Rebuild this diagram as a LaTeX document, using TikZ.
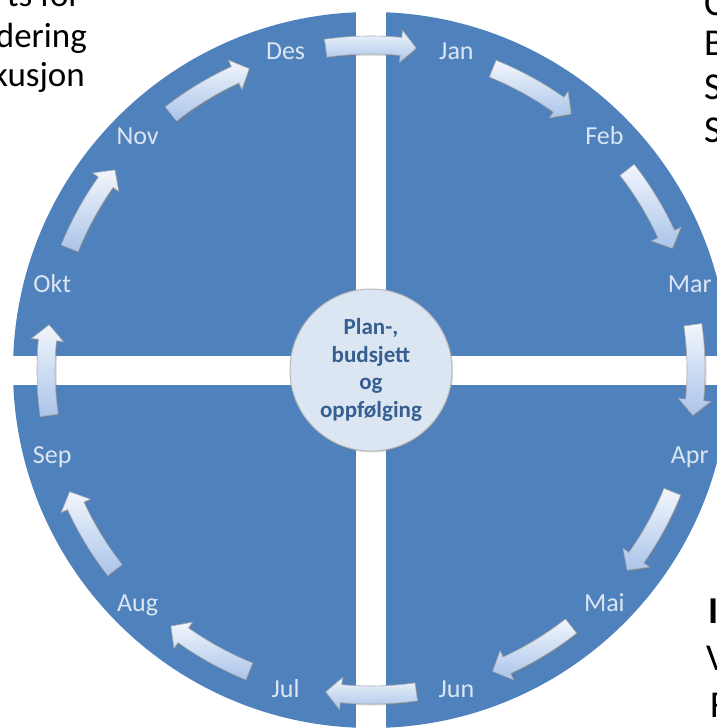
\documentclass[tikz,border=0pt]{standalone}
\usepackage{fontspec}
\setmainfont{Carlito}
\usetikzlibrary{shadows}

\definecolor{wheelblue}{HTML}{4F81BD}
\definecolor{hubfill}{HTML}{DCE6F2}
\definecolor{hubtext}{HTML}{365F91}
\definecolor{monthtext}{HTML}{DCE6F2}
\definecolor{arrowtop}{HTML}{F2F6FC}
\definecolor{arrowbot}{HTML}{AAC4EA}

\tikzset{
  month/.style={text=monthtext, inner sep=0pt, text height=16.5pt, text depth=0pt,
                font=\fontsize{26}{31}\selectfont},
  sidetext/.style={inner sep=0pt, font=\fontsize{35}{38}\selectfont},
  sidebig/.style={inner sep=0pt, font=\fontsize{38}{44}\selectfont},
  blockarrow/.style={draw=gray!65, line width=0.6pt, top color=arrowtop, bottom color=arrowbot,
                     drop shadow={shadow xshift=1.5pt, shadow yshift=-1.5pt, opacity=0.35}},
}

\begin{document}
\begin{tikzpicture}
  \useasboundingbox (-371pt,-358pt) rectangle (346pt,370pt);
  \clip (-371pt,-358pt) rectangle (346pt,370pt);

  % wheel with the four quarters
  \fill[wheelblue] (0,0) circle[radius=358pt];
  \fill[white] (-14.5pt,-360pt) rectangle (14.5pt,360pt);
  \fill[white] (-360pt,-14.5pt) rectangle (360pt,14.5pt);

  % months
  \foreach \m [count=\i] in {Jan,Feb,Mar,Apr,Mai,Jun,Jul,Aug,Sep,Okt,Nov,Des}
    \node[month] (m\i) at ({105-30*\i}:330pt) {\m};

  % arrows between the months, clockwise
  \foreach \a in {90,60,...,-240} {
    \pgfmathsetmacro\s{\a+8}
    \pgfmathsetmacro\e{\a-8}
    \pgfmathsetmacro\h{\e+2.7}
    \path[blockarrow] (\s:316pt) arc[start angle=\s, end angle=\h, radius=316pt]
      -- (\h:309pt) -- (\e:325pt) -- (\h:341pt) -- (\h:334pt)
      arc[start angle=\h, end angle=\s, radius=334pt] -- cycle;
  }

  % hub
  \node[circle, draw=gray!55, line width=1pt, fill=hubfill, minimum size=162pt,
        align=center, text=hubtext, font=\bfseries\fontsize{23}{27.5}\selectfont,
        drop shadow={shadow xshift=1pt, shadow yshift=-1.5pt, opacity=0.3}]
        (hub) at (0,0) {Plan-,\\budsjett\\og\\oppfølging};

  % text cut off at the edges
  \node[sidetext, anchor=base east] (lt1) at (-290pt,363pt) {ts for};
  \node[sidetext, anchor=base east] (lt2) at (-284pt,322pt) {dering};
  \node[sidetext, anchor=base east] (lt3) at (-286pt,283pt) {kusjon};

  \node[sidebig, anchor=base west] (rt1) at (333pt,354pt) {C};
  \node[sidebig, anchor=base west] (rt2) at (333pt,314pt) {B};
  \node[sidebig, anchor=base west] (rt3) at (333pt,270pt) {S};
  \node[sidebig, anchor=base west] (rt4) at (333pt,227pt) {S};

  \node[sidebig, anchor=base west] (rb1) at (337pt,-253pt) {\bfseries I};
  \node[sidebig, anchor=base west] (rb2) at (335pt,-300pt) {V};
  \node[sidebig, anchor=base west] (rb3) at (339pt,-347pt) {F};
\end{tikzpicture}
\end{document}
